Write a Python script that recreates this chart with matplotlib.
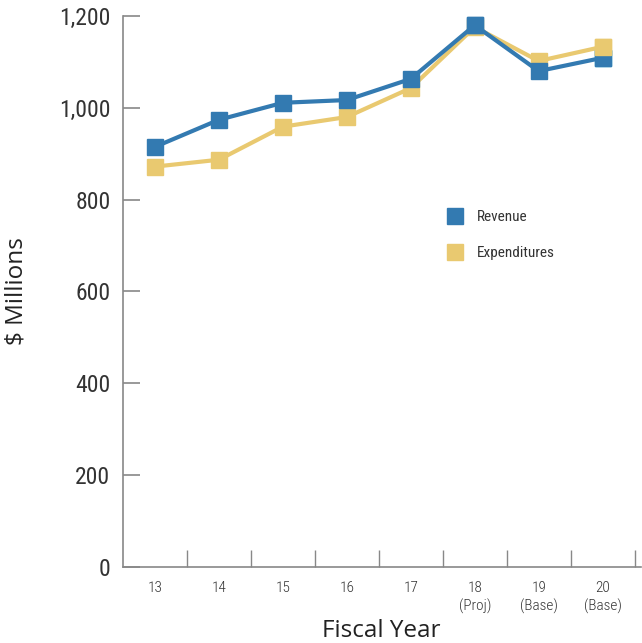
import matplotlib.pyplot as plt
from matplotlib.ticker import FixedLocator
from matplotlib.lines import Line2D

# data
years = ["13", "14", "15", "16", "17", "18\n(Proj)", "19\n(Base)", "20\n(Base)"]
revenue = [915, 974, 1011, 1017, 1063, 1180, 1080, 1109]
expenditures = [872, 887, 959, 980, 1043, 1176, 1102, 1133]

blue = "#337ab1"
gold = "#e9c970"
last_blue = "#0095c9"
grey = "#888888"
txt = "#333333"

narrow = ["Roboto Condensed", "DejaVu Sans"]

fig = plt.figure(figsize=(6.42, 6.43), dpi=100)
ax = fig.add_axes([123 / 642, 1 - 567 / 643, 518 / 642, 551 / 643])

x = list(range(len(years)))
ax.plot(x, revenue, color=blue, lw=3, marker="s", ms=12, zorder=3)
ax.plot(x, expenditures, color=gold, lw=3, marker="s", ms=12, zorder=2)
# last revenue point is a lighter blue in the original
ax.plot(x[-1:], revenue[-1:], ls="none", marker="s", ms=12, color=last_blue, zorder=1)
ax.plot(x[-1:], expenditures[-1:], ls="none", marker="s", ms=12, color=gold, zorder=4)
ax.plot(x[5:6], revenue[5:6], ls="none", marker="s", ms=12, color=blue, zorder=5)

ax.set_xlim(-0.5, 7.6)
ax.set_ylim(0, 1200)

for s in ["top", "right"]:
    ax.spines[s].set_visible(False)
for s in ["left", "bottom"]:
    ax.spines[s].set_color(grey)
    ax.spines[s].set_linewidth(1.2)

ax.set_xticks(x)
ax.set_xticklabels(years, fontsize=11, color=txt, family=narrow, fontweight="light",
                   linespacing=1.3)
ax.xaxis.set_minor_locator(FixedLocator([i + 0.5 for i in x]))
ax.tick_params(axis="x", which="major", length=0, pad=10)
ax.tick_params(axis="x", which="minor", direction="in", length=12, color=grey, width=1)

ax.set_yticks([0, 200, 400, 600, 800, 1000, 1200])
ax.set_yticklabels(["0", "200", "400", "600", "800", "1,000", "1,200"],
                   fontsize=17, color=txt, family=narrow)
ax.tick_params(axis="y", direction="in", length=12, color=grey, width=1.2, pad=9)

ax.set_ylabel("$ Millions", fontsize=17.5, color="#222222", family="Open Sans",
              fontweight="medium")
ax.yaxis.set_label_coords(-0.183, 0.5)
ax.set_xlabel("Fiscal Year", fontsize=17.5, color="#222222", family="Open Sans",
              fontweight="medium")
ax.xaxis.set_label_coords(0.498, -0.094)

handles = [Line2D([], [], ls="none", marker="s", ms=12, color=blue),
           Line2D([], [], ls="none", marker="s", ms=12, color=gold)]
leg = ax.legend(handles, ["Revenue", "Expenditures"], loc="upper left",
                bbox_to_anchor=(0.6, 0.672), frameon=False, handlelength=1.0,
                handletextpad=0.9, labelspacing=1.4,
                prop={"family": narrow, "size": 11})
for t in leg.get_texts():
    t.set_color(txt)

fig.savefig("out.png", dpi=100)
